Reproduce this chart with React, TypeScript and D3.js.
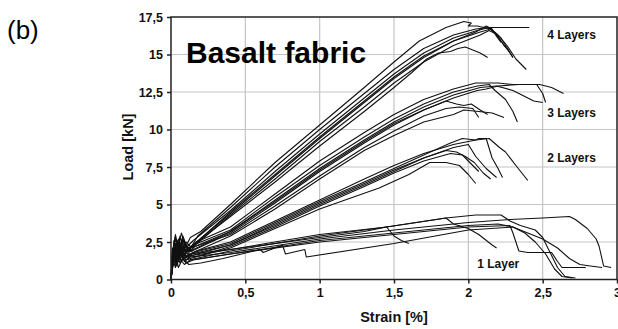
import React, { useEffect, useRef } from 'react';
import * as d3 from 'd3';

const xTicks = [0, 0.5, 1, 1.5, 2, 2.5, 3];
const yTicks = [0, 2.5, 5, 7.5, 10, 12.5, 15, 17.5];
const groupNames = ['1 Layer', '2 Layers', '3 Layers', '4 Layers'];

// [strain %, load kN]
const fourLayers = [
  [[0,0],[0.01,1.4],[0.02,2.6],[0.04,1.5],[0.06,2.9],[0.09,2.0],[0.13,2.8],[0.2,3.2],[0.4,5.0],[0.7,7.8],[1.0,10.3],[1.3,12.8],[1.5,14.5],[1.67,15.9],[1.85,16.8],[1.97,17.2],[2.02,17.1],[2.0,16.9],[2.06,16.9],[2.15,16.7],[2.22,16.1],[2.3,14.8]],
  [[0,0],[0.01,1.8],[0.03,3.0],[0.05,1.8],[0.08,2.5],[0.12,1.9],[0.18,2.9],[0.4,4.8],[0.7,7.5],[1.0,10.0],[1.3,12.4],[1.5,14.0],[1.7,15.4],[1.9,16.3],[2.05,16.7],[2.14,16.8],[2.25,16.8],[2.41,16.8]],
  [[0,0],[0.02,2.3],[0.04,1.7],[0.07,3.1],[0.1,2.1],[0.15,2.6],[0.4,4.6],[0.7,7.2],[1.0,9.7],[1.3,12.1],[1.5,13.7],[1.7,15.1],[1.9,16.1],[2.06,16.6],[2.14,16.8],[2.2,16.3],[2.26,15.6],[2.32,14.7],[2.36,14.3],[2.39,14.0]],
  [[0,0],[0.01,1.1],[0.03,2.2],[0.05,1.4],[0.08,2.7],[0.11,2.0],[0.16,2.4],[0.4,4.4],[0.7,6.9],[1.0,9.4],[1.3,11.8],[1.5,13.4],[1.7,14.8],[1.9,15.9],[2.08,16.5],[2.15,16.7],[2.2,16.2],[2.24,15.6],[2.27,15.3]],
  [[0,0],[0.02,1.9],[0.05,2.7],[0.07,1.6],[0.1,2.5],[0.14,2.1],[0.4,4.3],[0.7,6.7],[1.0,9.2],[1.3,11.5],[1.5,13.1],[1.7,14.5],[1.9,15.6],[2.08,16.3],[2.14,16.6],[2.18,16.4],[2.22,15.9],[2.28,15.1],[2.3,14.8]],
  [[0,0],[0.02,2.1],[0.04,1.3],[0.06,2.5],[0.1,1.8],[0.15,2.3],[0.4,4.2],[0.7,6.5],[1.0,8.9],[1.3,11.2],[1.5,12.8],[1.62,13.8],[1.72,14.7],[1.8,15.1],[1.88,15.2],[1.93,15.4],[1.98,15.5],[2.03,15.3],[2.08,15.1],[2.13,14.8]],
  [[0,0],[0.01,2.0],[0.03,1.2],[0.06,2.4],[0.09,1.6],[0.14,2.2],[0.4,4.5],[0.7,7.0],[1.0,9.5],[1.3,11.9],[1.5,13.5],[1.7,14.9],[1.9,15.9],[2.05,16.5],[2.12,16.9],[2.16,16.7],[2.19,16.2],[2.22,15.8]],
];

const threeLayers = [
  [[0,0],[0.01,1.7],[0.03,2.9],[0.05,1.9],[0.08,2.6],[0.12,2.0],[0.17,2.5],[0.4,3.5],[0.7,5.7],[1.0,7.9],[1.3,9.8],[1.5,11.0],[1.7,12.0],[1.9,12.7],[2.05,13.1],[2.14,13.1],[2.2,13.1],[2.3,13.0],[2.48,13.0],[2.56,12.8],[2.64,12.4]],
  [[0,0],[0.02,2.2],[0.04,1.4],[0.06,2.8],[0.1,1.9],[0.15,2.3],[0.4,3.3],[0.7,5.5],[1.0,7.6],[1.3,9.5],[1.5,10.7],[1.7,11.7],[1.9,12.5],[2.06,12.9],[2.14,13.0],[2.18,12.6],[2.25,12.0],[2.3,11.2],[2.33,10.5]],
  [[0,0],[0.01,1.3],[0.03,2.4],[0.05,1.6],[0.08,2.9],[0.12,1.8],[0.16,2.2],[0.4,3.2],[0.7,5.3],[1.0,7.4],[1.3,9.3],[1.5,10.5],[1.7,11.5],[1.9,12.3],[2.08,12.8],[2.19,12.9],[2.3,12.6],[2.38,12.2],[2.44,11.9],[2.5,11.8]],
  [[0,0],[0.02,1.8],[0.04,2.6],[0.07,1.5],[0.1,2.3],[0.14,1.9],[0.4,3.1],[0.7,5.1],[1.0,7.2],[1.3,9.1],[1.5,10.3],[1.7,11.3],[1.9,12.1],[2.06,12.6],[2.12,12.7],[2.2,12.9],[2.34,13.0],[2.46,13.0],[2.5,12.4],[2.52,11.8]],
  [[0,0],[0.01,2.1],[0.03,1.2],[0.05,2.5],[0.09,1.7],[0.13,2.1],[0.4,3.0],[0.7,4.9],[1.0,6.9],[1.3,8.8],[1.5,9.9],[1.7,10.9],[1.85,11.4],[1.94,11.5],[2.03,11.4],[2.07,10.8]],
  [[0,0],[0.02,1.6],[0.04,2.3],[0.06,1.4],[0.1,2.0],[0.15,1.8],[0.4,2.9],[0.7,4.7],[1.0,6.7],[1.3,8.6],[1.5,9.6],[1.7,10.5],[1.9,11.0],[1.97,11.3],[2.07,11.2],[2.16,11.1],[2.24,10.8]],
  [[0,0],[0.01,1.5],[0.03,2.7],[0.06,1.7],[0.09,2.4],[0.13,1.9],[0.4,3.2],[0.7,5.2],[1.0,7.3],[1.3,9.2],[1.5,10.4],[1.7,11.3],[1.85,11.9],[1.92,11.7],[1.97,11.6],[2.02,11.7],[2.08,11.3],[2.13,11.0]],
];

const twoLayers = [
  [[0,0],[0.01,1.2],[0.03,2.4],[0.05,1.5],[0.08,2.1],[0.12,1.6],[0.17,1.9],[0.4,2.5],[0.7,3.9],[1.0,5.3],[1.3,6.7],[1.5,7.6],[1.7,8.4],[1.9,9.0],[2.05,9.3],[2.14,9.4],[2.21,8.8],[2.25,8.5],[2.32,7.6],[2.4,6.6]],
  [[0,0],[0.02,1.9],[0.04,1.1],[0.06,2.2],[0.1,1.5],[0.15,1.8],[0.4,2.4],[0.7,3.8],[1.0,5.2],[1.3,6.5],[1.5,7.4],[1.7,8.3],[1.88,9.1],[1.96,9.4],[2.05,9.3],[2.07,9.4],[2.12,9.4],[2.16,8.1],[2.2,7.4],[2.23,6.8]],
  [[0,0],[0.01,1.6],[0.03,1.0],[0.05,2.5],[0.09,1.4],[0.14,1.7],[0.4,2.3],[0.7,3.6],[1.0,5.0],[1.3,6.3],[1.5,7.2],[1.7,8.1],[1.9,8.8],[2.0,9.0],[2.05,8.2],[2.12,7.4],[2.19,6.8]],
  [[0,0],[0.02,1.4],[0.04,2.0],[0.07,1.2],[0.1,1.8],[0.16,1.5],[0.4,2.1],[0.7,3.4],[1.0,4.7],[1.4,6.1],[1.6,7.0],[1.74,7.8],[1.85,7.8],[1.94,7.6],[2.0,7.0],[2.05,6.4]],
  [[0,0],[0.01,1.3],[0.03,1.9],[0.06,1.1],[0.09,1.7],[0.13,1.4],[0.4,2.2],[0.7,3.5],[1.0,4.9],[1.3,6.2],[1.5,7.1],[1.7,7.9],[1.88,8.4],[1.96,8.3],[2.02,7.7],[2.07,7.2]],
  [[0,0],[0.02,1.7],[0.04,1.2],[0.06,2.0],[0.1,1.3],[0.14,1.6],[0.4,2.3],[0.7,3.7],[1.0,5.1],[1.3,6.4],[1.5,7.3],[1.7,8.1],[1.85,8.6],[1.92,8.5],[1.98,8.2],[2.04,7.8],[2.1,7.1],[2.15,6.7]],
];

const oneLayer = [
  [[0,0],[0.01,1.0],[0.02,2.2],[0.04,1.3],[0.06,1.9],[0.09,1.2],[0.13,1.5],[0.4,1.8],[1.0,2.7],[1.5,3.3],[2.0,3.8],[2.28,4.0],[2.5,4.1],[2.68,4.2],[2.72,4.0],[2.8,3.4],[2.86,2.7],[2.88,2.2],[2.91,0.9],[2.96,0.8]],
  [[0,0],[0.01,1.7],[0.03,1.1],[0.05,2.0],[0.08,1.4],[0.12,1.7],[0.4,2.0],[1.0,3.0],[1.45,3.5],[1.85,4.1],[2.05,4.3],[2.22,4.3],[2.28,3.9],[2.35,3.6],[2.45,3.3],[2.5,2.8],[2.55,1.8],[2.6,0.8],[2.65,0.2],[2.72,0.1]],
  [[0,0],[0.02,1.5],[0.04,0.9],[0.06,1.7],[0.1,1.1],[0.15,1.3],[0.4,1.7],[1.0,2.5],[1.5,3.0],[2.0,3.5],[2.28,3.6],[2.3,3.1],[2.34,1.9],[2.4,1.8],[2.56,1.8],[2.6,1.2],[2.63,0.8],[2.79,0.8]],
  [[0,0],[0.01,1.2],[0.03,2.0],[0.05,1.2],[0.08,1.8],[0.12,1.3],[0.4,1.9],[1.0,2.9],[1.45,3.5],[1.85,4.1],[1.9,3.7],[2.0,3.4],[2.07,3.0],[2.16,2.3],[2.19,2.1]],
  [[0,0],[0.02,1.8],[0.04,1.2],[0.07,2.1],[0.1,1.5],[0.14,1.6],[0.4,2.0],[1.0,2.8],[1.3,3.2],[1.45,3.5],[1.5,2.9],[1.55,2.6],[1.6,2.4]],
  [[0,0],[0.01,0.9],[0.03,1.6],[0.05,0.8],[0.08,1.4],[0.12,1.0],[0.2,1.1],[0.35,1.4],[0.6,2.0],[0.62,1.8],[0.75,2.3],[0.77,1.7],[0.9,2.0],[0.91,1.5],[1.5,2.4],[2.0,3.3],[2.3,3.5],[2.38,3.1],[2.45,2.5],[2.52,1.7],[2.58,0.7],[2.63,0.2],[2.7,0.1]],
  [[0,0],[0.01,1.4],[0.03,0.8],[0.05,1.5],[0.09,1.0],[0.13,1.3],[0.4,1.7],[1.0,2.6],[1.5,3.1],[2.0,3.6],[2.2,3.7],[2.3,3.5],[2.4,3.1],[2.5,2.7],[2.6,2.1],[2.68,1.4],[2.75,1.0],[2.82,0.9],[2.9,0.8]],
];

const W = 618;
const H = 329;
const font = 'Arial, "Liberation Sans", sans-serif';

export default function App() {
  const ref = useRef(null);

  useEffect(() => {
    const svg = d3.select(ref.current);
    svg.selectAll('*').remove();

    const x = d3.scaleLinear().domain([0, 3]).range([171, 617]);
    const y = d3.scaleLinear().domain([0, 17.5]).range([279.5, 17]);
    const fmt = (v) => String(v).replace('.', ',');

    svg.append('rect').attr('width', W).attr('height', H).attr('fill', '#fff');

    // grid
    svg.append('g')
      .selectAll('line')
      .data(xTicks.slice(1, -1))
      .join('line')
      .attr('x1', d => x(d)).attr('x2', d => x(d))
      .attr('y1', y(17.5)).attr('y2', y(0))
      .attr('stroke', '#c4c4c4').attr('stroke-width', 1.2);
    svg.append('g')
      .selectAll('line')
      .data(yTicks.slice(1, -1))
      .join('line')
      .attr('x1', x(0)).attr('x2', x(3))
      .attr('y1', d => y(d)).attr('y2', d => y(d))
      .attr('stroke', '#c4c4c4').attr('stroke-width', 1.2);

    // curves
    const line = d3.line().x(d => x(d[0])).y(d => y(d[1]));
    const all = [...oneLayer, ...twoLayers, ...threeLayers, ...fourLayers];
    svg.append('g')
      .selectAll('path')
      .data(all)
      .join('path')
      .attr('d', d => line(d))
      .attr('fill', 'none')
      .attr('stroke', '#111')
      .attr('stroke-width', 1.1)
      .attr('stroke-linejoin', 'round');

    // frame
    svg.append('rect')
      .attr('x', x(0)).attr('y', y(17.5))
      .attr('width', x(3) - x(0)).attr('height', y(0) - y(17.5))
      .attr('fill', 'none').attr('stroke', '#222').attr('stroke-width', 1.5);

    // axes
    const xAxis = svg.append('g')
      .attr('transform', `translate(0, ${y(0)})`)
      .call(d3.axisBottom(x).tickValues(xTicks).tickSize(4).tickPadding(5).tickFormat(fmt));
    const yAxis = svg.append('g')
      .attr('transform', `translate(${x(0)}, 0)`)
      .call(d3.axisLeft(y).tickValues(yTicks).tickSize(4).tickPadding(4).tickFormat(fmt));
    [xAxis, yAxis].forEach(a => {
      a.select('.domain').remove();
      a.selectAll('line').attr('stroke', '#222').attr('stroke-width', 1.5);
      a.selectAll('text')
        .attr('fill', '#111')
        .style('font-family', font)
        .style('font-size', '12.5px')
        .style('font-weight', 'bold');
    });

    // axis titles
    svg.append('text')
      .attr('x', (x(0) + x(3)) / 2).attr('y', 322)
      .attr('text-anchor', 'middle')
      .style('font-family', font).style('font-size', '14.5px').style('font-weight', 'bold')
      .attr('fill', '#111')
      .text('Strain [%]');
    svg.append('text')
      .attr('transform', `translate(133, 147) rotate(-90)`)
      .attr('text-anchor', 'middle')
      .style('font-family', font).style('font-size', '14.5px').style('font-weight', 'bold')
      .attr('fill', '#111')
      .text('Load [kN]');

    // group labels
    const labelPos = [[2.06, 0.8], [2.53, 7.85], [2.53, 10.85], [2.53, 16.05]];
    svg.append('g')
      .selectAll('text')
      .data(groupNames)
      .join('text')
      .attr('x', (d, i) => x(labelPos[i][0]))
      .attr('y', (d, i) => y(labelPos[i][1]))
      .style('font-family', font).style('font-size', '12px').style('font-weight', 'bold')
      .attr('fill', '#111')
      .text(d => d);

    svg.append('text')
      .attr('x', 186).attr('y', 63)
      .style('font-family', font).style('font-size', '30px').style('font-weight', 'bold')
      .attr('fill', '#000')
      .text('Basalt fabric');

    svg.append('text')
      .attr('x', 7).attr('y', 39)
      .style('font-family', font).style('font-size', '26px')
      .attr('fill', '#000')
      .text('(b)');
  }, []);

  return (
    <svg ref={ref} width={W} height={H} style={{ position: 'absolute', left: 0, top: 0 }} />
  );
}
